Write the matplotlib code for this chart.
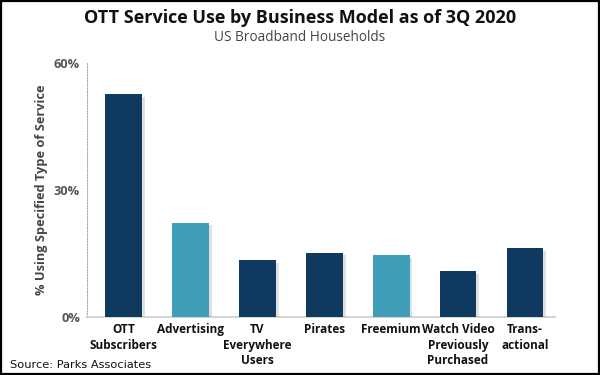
import matplotlib
matplotlib.use('Agg')
import matplotlib.pyplot as plt
import matplotlib.patheffects as pe
from matplotlib.patches import Rectangle

cats=['OTT\nSubscribers','Advertising','TV\nEverywhere\nUsers','Pirates',
      'Freemium','Watch Video\nPreviously\nPurchased','Trans-\nactional']
vals=[52.5,22.2,13.3,15.1,14.6,10.8,16.1]
kind=['dark','light','dark','dark','light','dark','dark']
ticks=[0,30,60]
ticklb=['0%','30%','60%']

cols={'dark':'#10395f','light':'#3f9fb8'}

fig=plt.figure(figsize=(6,3.75),dpi=100)
ax=fig.add_axes([0.145,0.156,0.78,0.677])

x=range(len(cats))
bars=ax.bar(x,vals,width=0.55,color=[cols[k] for k in kind],zorder=3)
for b in bars:
    b.set_path_effects([pe.SimplePatchShadow(offset=(2,-2),shadow_rgbFace='#999999',alpha=0.3),pe.Normal()])

ax.set_xlim(-0.55,6.45)
ax.set_ylim(0,60)
ax.set_yticks(ticks)
ax.set_yticklabels(ticklb,fontsize=9.2,fontweight='bold',family='Open Sans',color='#555555')
ax.set_xticks(list(x))
ax.set_xticklabels(cats,fontsize=8.5,fontweight='bold',family='Open Sans',linespacing=1.25,va='top',color='#111111')
ax.tick_params(axis='both',length=0)
ax.tick_params(axis='x',pad=5)
ax.tick_params(axis='y',pad=5)
for s in ['top','right']:
    ax.spines[s].set_visible(False)
ax.spines['left'].set_linestyle((0,(1,1.5)))
ax.spines['left'].set_color('#aaaaaa')
ax.spines['bottom'].set_color('#cccccc')
ax.spines['bottom'].set_linewidth(1.2)
ax.set_ylabel('% Using Specified Type of Service',fontsize=9.2,fontweight='bold',family='Open Sans',
              color='#444444',labelpad=4)

fig.text(0.5,0.953,'OTT Service Use by Business Model as of 3Q 2020',ha='center',va='center',
         fontsize=13,fontweight='bold',family='Open Sans',color='#111111')
fig.text(0.5,0.9,'US Broadband Households',ha='center',va='center',fontsize=9.8,
         family='Open Sans',color='#444444')
fig.text(0.017,0.027,'Source: Parks Associates',ha='left',va='center',fontsize=8.2,color='#111111')

fig.patches.append(Rectangle((0.0015,0.0025),0.997,0.995,transform=fig.transFigure,fill=False,
                             edgecolor='black',linewidth=1.6))
fig.savefig('out.png',dpi=100)
